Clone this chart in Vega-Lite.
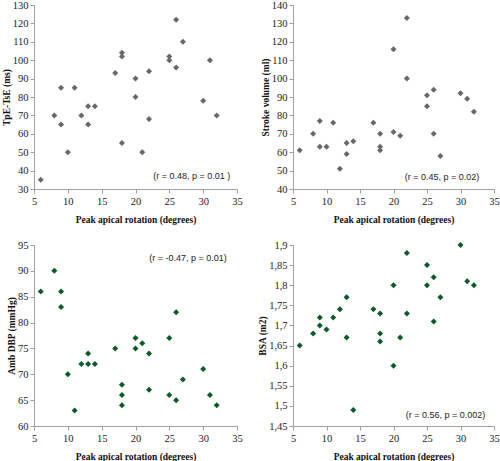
{
  "$schema": "https://vega.github.io/schema/vega-lite/v6.json",
  "background": "white",
  "padding": {"left": 1, "top": 0, "right": 0, "bottom": 0},
  "bounds": "flush",
  "spacing": {"column": 56, "row": 56},
  "columns": 2,
  "datasets": {
    "tpe": [
      {"x": 6, "y": 35}, {"x": 8, "y": 70}, {"x": 9, "y": 85}, {"x": 9, "y": 65}, {"x": 10, "y": 50},
      {"x": 11, "y": 85}, {"x": 12, "y": 70}, {"x": 13, "y": 75}, {"x": 13, "y": 65}, {"x": 14, "y": 75},
      {"x": 17, "y": 93}, {"x": 18, "y": 104}, {"x": 18, "y": 102}, {"x": 18, "y": 55}, {"x": 20, "y": 90},
      {"x": 20, "y": 80}, {"x": 21, "y": 50}, {"x": 22, "y": 94}, {"x": 22, "y": 68}, {"x": 25, "y": 102},
      {"x": 25, "y": 100}, {"x": 26, "y": 122}, {"x": 26, "y": 96}, {"x": 27, "y": 110}, {"x": 30, "y": 78},
      {"x": 31, "y": 100}, {"x": 32, "y": 70}
    ],
    "sv": [
      {"x": 6, "y": 61}, {"x": 8, "y": 70}, {"x": 9, "y": 77}, {"x": 9, "y": 63}, {"x": 10, "y": 63},
      {"x": 11, "y": 76}, {"x": 12, "y": 51}, {"x": 13, "y": 65}, {"x": 13, "y": 59}, {"x": 14, "y": 66},
      {"x": 17, "y": 76}, {"x": 18, "y": 70}, {"x": 18, "y": 63}, {"x": 18, "y": 61}, {"x": 20, "y": 116},
      {"x": 20, "y": 71}, {"x": 21, "y": 69}, {"x": 22, "y": 133}, {"x": 22, "y": 100}, {"x": 25, "y": 91},
      {"x": 25, "y": 85}, {"x": 26, "y": 94}, {"x": 26, "y": 70}, {"x": 27, "y": 58}, {"x": 30, "y": 92},
      {"x": 31, "y": 89}, {"x": 32, "y": 82}
    ],
    "dbp": [
      {"x": 6, "y": 86}, {"x": 8, "y": 90}, {"x": 9, "y": 86}, {"x": 9, "y": 83}, {"x": 10, "y": 70},
      {"x": 11, "y": 63}, {"x": 12, "y": 72}, {"x": 13, "y": 74}, {"x": 13, "y": 72}, {"x": 14, "y": 72},
      {"x": 17, "y": 75}, {"x": 18, "y": 68}, {"x": 18, "y": 66}, {"x": 18, "y": 64}, {"x": 20, "y": 77},
      {"x": 20, "y": 75}, {"x": 21, "y": 76}, {"x": 22, "y": 74}, {"x": 22, "y": 67}, {"x": 25, "y": 77},
      {"x": 25, "y": 66}, {"x": 26, "y": 82}, {"x": 26, "y": 65}, {"x": 27, "y": 69}, {"x": 30, "y": 71},
      {"x": 31, "y": 66}, {"x": 32, "y": 64}
    ],
    "bsa": [
      {"x": 6, "y": 1.65}, {"x": 8, "y": 1.68}, {"x": 9, "y": 1.72}, {"x": 9, "y": 1.70}, {"x": 10, "y": 1.69},
      {"x": 11, "y": 1.72}, {"x": 12, "y": 1.74}, {"x": 13, "y": 1.77}, {"x": 13, "y": 1.67}, {"x": 14, "y": 1.49},
      {"x": 17, "y": 1.74}, {"x": 18, "y": 1.73}, {"x": 18, "y": 1.68}, {"x": 18, "y": 1.66}, {"x": 20, "y": 1.80},
      {"x": 20, "y": 1.60}, {"x": 21, "y": 1.67}, {"x": 22, "y": 1.88}, {"x": 22, "y": 1.73}, {"x": 25, "y": 1.85},
      {"x": 25, "y": 1.80}, {"x": 26, "y": 1.82}, {"x": 26, "y": 1.71}, {"x": 27, "y": 1.77}, {"x": 30, "y": 1.90},
      {"x": 31, "y": 1.81}, {"x": 32, "y": 1.80}
    ],
    "notes": [
      {"panel": "tpe", "x": 34, "y": 37, "label": "(r = 0.48, p = 0.01 )"},
      {"panel": "sv", "x": 32.8, "y": 46.5, "label": "(r = 0.45, p = 0.02)"},
      {"panel": "dbp", "x": 33.5, "y": 92.5, "label": "(r = -0.47, p = 0.01)"},
      {"panel": "bsa", "x": 33.7, "y": 1.4775, "label": "(r = 0.56, p = 0.002)"}
    ]
  },
  "concat": [
    {
      "width": 203, "height": 184,
      "layer": [
        {
          "data": {"name": "tpe"},
          "mark": {"type": "point", "shape": "diamond", "filled": true, "size": 36, "color": "#686868", "opacity": 1},
          "encoding": {
            "x": {"field": "x", "type": "quantitative", "title": "Peak apical rotation (degrees)",
                  "scale": {"domain": [5, 35], "nice": false}, "axis": {"values": [5, 10, 15, 20, 25, 30, 35]}},
            "y": {"field": "y", "type": "quantitative", "title": "TpE-TsE (ms)",
                  "scale": {"domain": [30, 130], "nice": false, "zero": false}, "axis": {"values": [30, 40, 50, 60, 70, 80, 90, 100, 110, 120, 130]}}
          }
        },
        {
          "data": {"name": "notes"},
          "transform": [{"filter": "datum.panel === 'tpe'"}],
          "mark": {"type": "text", "align": "right", "baseline": "middle", "font": "Liberation Sans", "fontSize": 9, "color": "#222"},
          "encoding": {"x": {"field": "x", "type": "quantitative"}, "y": {"field": "y", "type": "quantitative"}, "text": {"field": "label"}}
        }
      ]
    },
    {
      "width": 201, "height": 184,
      "layer": [
        {
          "data": {"name": "sv"},
          "mark": {"type": "point", "shape": "diamond", "filled": true, "size": 36, "color": "#686868", "opacity": 1},
          "encoding": {
            "x": {"field": "x", "type": "quantitative", "title": "Peak apical rotation (degrees)",
                  "scale": {"domain": [5, 35], "nice": false}, "axis": {"values": [5, 10, 15, 20, 25, 30, 35]}},
            "y": {"field": "y", "type": "quantitative", "title": "Stroke volume (ml)",
                  "scale": {"domain": [40, 140], "nice": false, "zero": false}, "axis": {"values": [40, 50, 60, 70, 80, 90, 100, 110, 120, 130, 140]}}
          }
        },
        {
          "data": {"name": "notes"},
          "transform": [{"filter": "datum.panel === 'sv'"}],
          "mark": {"type": "text", "align": "right", "baseline": "middle", "font": "Liberation Sans", "fontSize": 9, "color": "#222"},
          "encoding": {"x": {"field": "x", "type": "quantitative"}, "y": {"field": "y", "type": "quantitative"}, "text": {"field": "label"}}
        }
      ]
    },
    {
      "width": 203, "height": 181,
      "layer": [
        {
          "data": {"name": "dbp"},
          "mark": {"type": "point", "shape": "diamond", "filled": true, "size": 36, "color": "#0b5a2c", "opacity": 1},
          "encoding": {
            "x": {"field": "x", "type": "quantitative", "title": "Peak apical rotation (degrees)",
                  "scale": {"domain": [5, 35], "nice": false}, "axis": {"values": [5, 10, 15, 20, 25, 30, 35]}},
            "y": {"field": "y", "type": "quantitative", "title": "Amb DBP (mmHg)",
                  "scale": {"domain": [60, 95], "nice": false, "zero": false}, "axis": {"values": [60, 65, 70, 75, 80, 85, 90, 95]}}
          }
        },
        {
          "data": {"name": "notes"},
          "transform": [{"filter": "datum.panel === 'dbp'"}],
          "mark": {"type": "text", "align": "right", "baseline": "middle", "font": "Liberation Sans", "fontSize": 9, "color": "#222"},
          "encoding": {"x": {"field": "x", "type": "quantitative"}, "y": {"field": "y", "type": "quantitative"}, "text": {"field": "label"}}
        }
      ]
    },
    {
      "width": 201, "height": 181,
      "layer": [
        {
          "data": {"name": "bsa"},
          "mark": {"type": "point", "shape": "diamond", "filled": true, "size": 36, "color": "#0b5a2c", "opacity": 1},
          "encoding": {
            "x": {"field": "x", "type": "quantitative", "title": "Peak apical rotation (degrees)",
                  "scale": {"domain": [5, 35], "nice": false}, "axis": {"values": [5, 10, 15, 20, 25, 30, 35]}},
            "y": {"field": "y", "type": "quantitative", "title": "BSA (m2)",
                  "scale": {"domain": [1.45, 1.9], "nice": false, "zero": false},
                  "axis": {"values": [1.45, 1.5, 1.55, 1.6, 1.65, 1.7, 1.75, 1.8, 1.85, 1.9],
                           "labelExpr": "replace(format(datum.value, '~g'), '.', ',')"}}
          }
        },
        {
          "data": {"name": "notes"},
          "transform": [{"filter": "datum.panel === 'bsa'"}],
          "mark": {"type": "text", "align": "right", "baseline": "middle", "font": "Liberation Sans", "fontSize": 9, "color": "#222"},
          "encoding": {"x": {"field": "x", "type": "quantitative"}, "y": {"field": "y", "type": "quantitative"}, "text": {"field": "label"}}
        }
      ]
    }
  ],
  "config": {
    "view": {"stroke": null},
    "axis": {
      "grid": false,
      "tickCount": 30,
      "labelFont": "Liberation Serif",
      "labelFontSize": 10.5,
      "labelColor": "#222",
      "labelOverlap": false,
      "labelFlush": false,
      "titleFont": "Liberation Serif",
      "titleFontSize": 9.5,
      "titleFontWeight": "bold",
      "titleColor": "#111",
      "domainColor": "#a0a0a0",
      "tickColor": "#a0a0a0",
      "tickSize": 4
    },
    "axisX": {"titlePadding": 8, "labelPadding": 3},
    "axisY": {"titlePadding": 1, "labelPadding": 2}
  }
}
